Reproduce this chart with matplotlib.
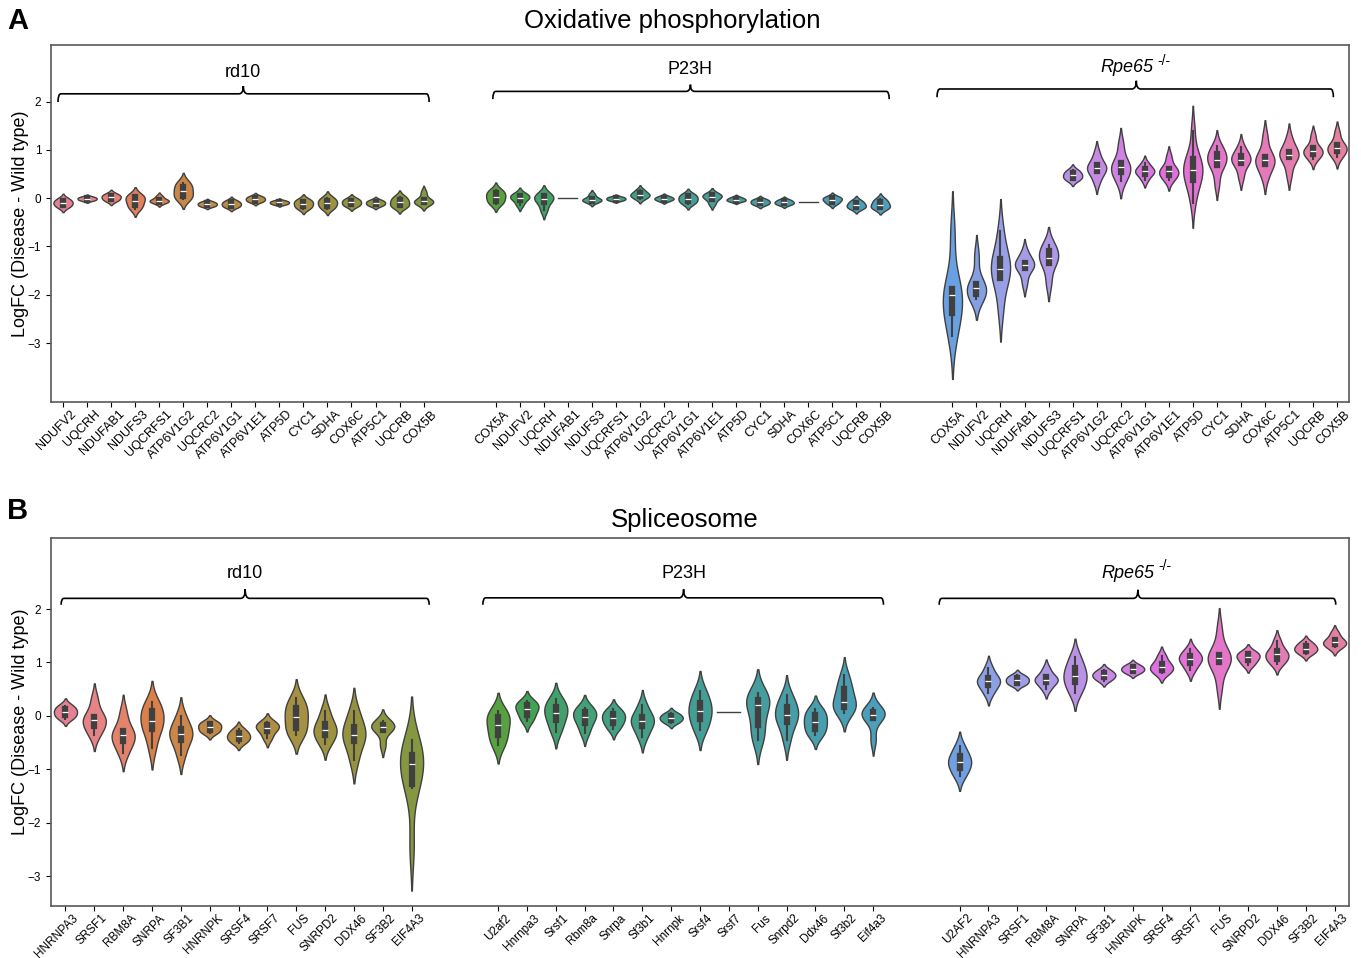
import numpy as np
import pandas as pd
import matplotlib
matplotlib.use('Agg')
import matplotlib.pyplot as plt
import matplotlib.transforms as mtransforms
from matplotlib.path import Path
from matplotlib.patches import PathPatch
import seaborn as sns

plt.rcParams['font.family'] = ['Liberation Sans', 'DejaVu Sans']

# ---- Panel A: oxidative phosphorylation (LogFC values per gene)
oxphos_rd10_genes = ['NDUFV2', 'UQCRH', 'NDUFAB1', 'NDUFS3', 'UQCRFS1', 'ATP6V1G2', 'UQCRC2', 'ATP6V1G1',
                     'ATP6V1E1', 'ATP5D', 'CYC1', 'SDHA', 'COX6C', 'ATP5C1', 'UQCRB', 'COX5B']
oxphos_rd10_values = [
    [-0.19, -0.14, -0.10, -0.06, -0.01],
    [-0.05, -0.03, -0.01, 0.01, 0.03],
    [-0.06, -0.02, 0.02, 0.05, 0.09],
    [-0.22, -0.14, -0.05, 0.02, 0.06],
    [-0.10, -0.07, -0.05, -0.03, 0.04],
    [-0.02, 0.04, 0.14, 0.24, 0.32],
    [-0.17, -0.15, -0.12, -0.10, -0.07],
    [-0.19, -0.16, -0.12, -0.09, -0.05],
    [-0.08, -0.05, -0.02, 0.01, 0.04],
    [-0.13, -0.11, -0.09, -0.07, -0.05],
    [-0.22, -0.17, -0.12, -0.07, -0.03],
    [-0.22, -0.16, -0.10, -0.05, 0.01],
    [-0.17, -0.13, -0.09, -0.05, -0.01],
    [-0.16, -0.13, -0.10, -0.07, -0.04],
    [-0.19, -0.15, -0.09, -0.03, 0.03],
    [-0.12, -0.09, -0.06, -0.04, 0.12],
]
oxphos_p23h_genes = ['COX5A', 'NDUFV2', 'UQCRH', 'NDUFAB1', 'NDUFS3', 'UQCRFS1', 'ATP6V1G2', 'UQCRC2',
                     'ATP6V1G1', 'ATP6V1E1', 'ATP5D', 'CYC1', 'SDHA', 'COX6C', 'ATP5C1', 'UQCRB', 'COX5B']
oxphos_p23h_values = [
    [-0.12, -0.05, 0.03, 0.10, 0.16],
    [-0.14, -0.03, 0.01, 0.05, 0.09],
    [-0.25, -0.08, -0.02, 0.04, 0.08],
    [0.01, 0.01, 0.01, 0.01, 0.01],
    [-0.08, -0.05, -0.03, -0.01, 0.08],
    [-0.05, -0.03, -0.01, 0.01, 0.03],
    [-0.01, 0.04, 0.07, 0.10, 0.17],
    [-0.06, -0.03, -0.01, 0.01, 0.04],
    [-0.12, -0.06, -0.02, 0.04, 0.08],
    [-0.12, -0.01, 0.03, 0.06, 0.09],
    [-0.07, -0.05, -0.03, -0.01, 0.02],
    [-0.14, -0.11, -0.08, -0.05, -0.02],
    [-0.14, -0.11, -0.09, -0.06, -0.03],
    [-0.08, -0.08, -0.08, -0.08, -0.08],
    [-0.12, -0.07, -0.03, 0.00, 0.03],
    [-0.22, -0.18, -0.15, -0.10, -0.05],
    [-0.22, -0.19, -0.14, -0.08, -0.02],
]
oxphos_rpe65_genes = oxphos_p23h_genes
oxphos_rpe65_values = [
    [-2.85, -2.45, -2.30, -2.00, -1.90, -1.85, -0.75],
    [-2.08, -2.00, -1.90, -1.82, -1.76, -1.20],
    [-2.30, -1.70, -1.60, -1.46, -1.30, -1.20, -0.69],
    [-1.75, -1.45, -1.40, -1.37, -1.32, -1.13],
    [-1.75, -1.35, -1.28, -1.20, -1.05, -0.98],
    [0.37, 0.42, 0.47, 0.52, 0.58],
    [0.35, 0.55, 0.60, 0.65, 0.70, 0.92],
    [0.35, 0.52, 0.60, 0.68, 0.74, 1.10],
    [0.38, 0.50, 0.54, 0.57, 0.62, 0.72],
    [0.38, 0.47, 0.53, 0.58, 0.62, 0.85],
    [-0.10, 0.22, 0.36, 0.45, 0.55, 0.60, 0.70, 0.84, 0.86, 1.40],
    [0.30, 0.65, 0.72, 0.80, 0.88, 0.95, 1.07],
    [0.45, 0.72, 0.78, 0.82, 0.88, 1.05],
    [0.45, 0.70, 0.76, 0.82, 0.86, 1.25],
    [0.50, 0.83, 0.88, 0.92, 0.97, 1.22],
    [0.82, 0.90, 0.96, 1.00, 1.04, 1.28],
    [0.85, 0.95, 1.02, 1.07, 1.10, 1.35],
]

# ---- Panel B: spliceosome
splice_rd10_genes = ['HNRNPA3', 'SRSF1', 'RBM8A', 'SNRPA', 'SF3B1', 'HNRNPK', 'SRSF4', 'SRSF7', 'FUS',
                     'SNRPD2', 'DDX46', 'SF3B2', 'EIF4A3']
splice_rd10_values = [
    [-0.05, 0.01, 0.07, 0.13, 0.19],
    [-0.35, -0.22, -0.10, -0.05, 0.00, 0.30],
    [-0.69, -0.50, -0.40, -0.33, -0.27, 0.05],
    [-0.61, -0.30, -0.20, -0.10, 0.05, 0.12, 0.26],
    [-0.74, -0.48, -0.38, -0.30, -0.22, 0.00],
    [-0.32, -0.27, -0.21, -0.16, -0.11],
    [-0.50, -0.44, -0.38, -0.33, -0.25],
    [-0.42, -0.28, -0.22, -0.17, -0.12],
    [-0.36, -0.30, -0.15, -0.03, 0.10, 0.18, 0.34],
    [-0.52, -0.38, -0.30, -0.22, -0.12, 0.10],
    [-0.83, -0.50, -0.40, -0.30, -0.17, 0.09],
    [-0.55, -0.27, -0.23, -0.20, -0.15, -0.10],
    [-2.45, -1.36, -1.25, -0.95, -0.86, -0.75, -0.66, -0.46],
]
splice_p23h_genes = ['U2af2', 'Hnrnpa3', 'Srsf1', 'Rbm8a', 'Snrpa', 'Sf3b1', 'Hnrnpk', 'Srsf4', 'Srsf7',
                     'Fus', 'Snrpd2', 'Ddx46', 'Sf3b2', 'Eif4a3']
splice_p23h_values = [
    [-0.55, -0.40, -0.25, -0.10, 0.00, 0.09],
    [-0.10, 0.00, 0.10, 0.16, 0.22, 0.27],
    [-0.30, -0.12, 0.02, 0.10, 0.20, 0.31],
    [-0.32, -0.15, -0.05, 0.02, 0.10, 0.15],
    [-0.25, -0.15, -0.07, -0.02, 0.06, 0.12],
    [-0.40, -0.22, -0.12, -0.06, 0.00, 0.20],
    [-0.13, -0.08, -0.04, 0.00, 0.05],
    [-0.27, -0.10, 0.05, 0.15, 0.28, 0.47],
    [0.075, 0.075, 0.075, 0.075, 0.075],
    [-0.45, -0.30, -0.05, 0.20, 0.27, 0.33, 0.42],
    [-0.45, -0.17, -0.05, 0.01, 0.12, 0.23, 0.39],
    [-0.36, -0.28, -0.15, -0.08, 0.05, 0.12],
    [0.05, 0.15, 0.20, 0.26, 0.45, 0.55, 0.76],
    [-0.45, -0.06, 0.00, 0.04, 0.08, 0.14],
]
splice_rpe65_genes = ['U2AF2', 'HNRNPA3', 'SRSF1', 'RBM8A', 'SNRPA', 'SF3B1', 'HNRNPK', 'SRSF4', 'SRSF7',
                      'FUS', 'SNRPD2', 'DDX46', 'SF3B2', 'EIF4A3']
splice_rpe65_values = [
    [-1.13, -0.99, -0.90, -0.82, -0.74, -0.57],
    [0.42, 0.56, 0.63, 0.68, 0.72, 0.90],
    [0.58, 0.62, 0.67, 0.71, 0.76],
    [0.50, 0.62, 0.66, 0.70, 0.73, 0.88],
    [0.43, 0.60, 0.70, 0.80, 0.92, 1.11],
    [0.66, 0.72, 0.76, 0.80, 0.86],
    [0.80, 0.84, 0.88, 0.91, 0.96],
    [0.80, 0.86, 0.92, 0.97, 1.12],
    [0.85, 0.98, 1.04, 1.10, 1.14, 1.25],
    [0.55, 0.98, 1.03, 1.08, 1.12, 1.15, 1.60],
    [0.95, 1.04, 1.10, 1.15, 1.20],
    [0.98, 1.05, 1.12, 1.18, 1.22, 1.40],
    [1.16, 1.22, 1.26, 1.31, 1.38],
    [1.28, 1.34, 1.38, 1.42, 1.55],
]

group_names = ['rd10', 'P23H', 'Rpe65']


def build_frame(groups):
    # two empty slots between the mouse models
    rows, ticks, labels = [], [], []
    slot = 0
    for gi, (genes, values) in enumerate(groups):
        if gi > 0:
            slot += 2
        for gene, vals in zip(genes, values):
            for v in vals:
                rows.append(('s%02d' % slot, v))
            ticks.append(slot)
            labels.append(gene)
            slot += 1
    return pd.DataFrame(rows, columns=['slot', 'logfc']), ticks, labels, slot


def brace(ax, x0, x1, xm, y, h_end, h_peak, dx_end, dx_mid):
    verts = [(x0, y - h_end), (x0, y), (x0 + dx_end, y),
             (xm - dx_mid, y),
             (xm, y), (xm, y + h_peak),
             (xm, y), (xm + dx_mid, y),
             (x1 - dx_end, y),
             (x1, y), (x1, y - h_end)]
    codes = [Path.MOVETO, Path.CURVE3, Path.CURVE3,
             Path.LINETO,
             Path.CURVE3, Path.CURVE3,
             Path.CURVE3, Path.CURVE3,
             Path.LINETO,
             Path.CURVE3, Path.CURVE3]
    ax.add_patch(PathPatch(Path(verts, codes), fill=False, lw=1.2, color='black', clip_on=False))


def draw_panel(ax, groups, ylim, braces, label_size):
    df, ticks, labels, n_slots = build_frame(groups)
    order = ['s%02d' % k for k in range(n_slots)]
    pal = sns.husl_palette(n_slots)
    palette = {s: pal[k] for k, s in enumerate(order)}
    sns.violinplot(data=df, x='slot', y='logfc', hue='slot', order=order, palette=palette,
                   inner='box', density_norm='width', linewidth=1.0, legend=False, ax=ax)
    ax.set_xlim(-0.5, n_slots - 0.5)
    ax.set_ylim(*ylim)
    ax.set_xticks(ticks)
    ax.set_xticklabels(labels, rotation=45, ha='right', va='top', rotation_mode='anchor',
                       fontsize=label_size)
    ax.tick_params(axis='x', pad=1, length=3.5)
    shift = mtransforms.ScaledTranslation(5 / 72, 0, ax.figure.dpi_scale_trans)
    for lab in ax.get_xticklabels():
        lab.set_transform(lab.get_transform() + shift)
    ax.set_yticks([-3, -2, -1, 0, 1, 2])
    ax.tick_params(axis='y', labelsize=8.5)
    ax.set_xlabel('')
    ax.set_ylabel('LogFC (Disease - Wild type)', fontsize=13, labelpad=-1)
    for sp in ax.spines.values():
        sp.set_color('0.35')
        sp.set_linewidth(1.2)
    for name, (x0, x1, xm, y, h_end, h_peak, ylab, dx_end, dx_mid) in zip(group_names, braces):
        brace(ax, x0, x1, xm, y, h_end, h_peak, dx_end, dx_mid)
        if name == 'Rpe65':
            ax.annotate(name, xy=(xm, ylab), xytext=(12, 0), textcoords='offset points',
                        ha='right', va='center', fontsize=13, style='italic')
            ax.annotate('-/-', xy=(xm, ylab), xytext=(15, 5), textcoords='offset points',
                        ha='left', va='center', fontsize=10)
        else:
            ax.text(xm, ylab, name, ha='center', va='center', fontsize=13)


fig = plt.figure(figsize=(13.61, 9.58), dpi=100)
ax_a = fig.add_axes([0.0375, 0.5804, 0.9537, 0.3726])
ax_b = fig.add_axes([0.0375, 0.0543, 0.9537, 0.3841])

draw_panel(ax_a,
           [(oxphos_rd10_genes, oxphos_rd10_values),
            (oxphos_p23h_genes, oxphos_p23h_values),
            (oxphos_rpe65_genes, oxphos_rpe65_values)],
           (-4.22, 3.17),
           [(-0.21, 15.23, 7.5, 2.16, 0.17, 0.16, 2.61, 0.12, 0.18),
            (17.88, 34.37, 26.1, 2.21, 0.16, 0.14, 2.66, 0.12, 0.18),
            (36.36, 52.85, 44.65, 2.26, 0.17, 0.17, 2.70, 0.12, 0.18)],
           9)

draw_panel(ax_b,
           [(splice_rd10_genes, splice_rd10_values),
            (splice_p23h_genes, splice_p23h_values),
            (splice_rpe65_genes, splice_rpe65_values)],
           (-3.56, 3.33),
           [(-0.15, 12.61, 6.23, 2.20, 0.12, 0.17, 2.67, 0.1, 0.15),
            (14.47, 28.36, 21.43, 2.21, 0.13, 0.16, 2.67, 0.1, 0.15),
            (30.29, 44.04, 37.18, 2.20, 0.12, 0.16, 2.67, 0.1, 0.15)],
           8.5)

fig.text(0.494, 0.978, 'Oxidative phosphorylation', ha='center', va='center', fontsize=18.5)
fig.text(0.503, 0.457, 'Spliceosome', ha='center', va='center', fontsize=18.5)
fig.text(0.005, 0.978, 'A', ha='left', va='center', fontsize=21, fontweight='bold')
fig.text(0.005, 0.467, 'B', ha='left', va='center', fontsize=21, fontweight='bold')

fig.savefig('out.png', dpi=100)
